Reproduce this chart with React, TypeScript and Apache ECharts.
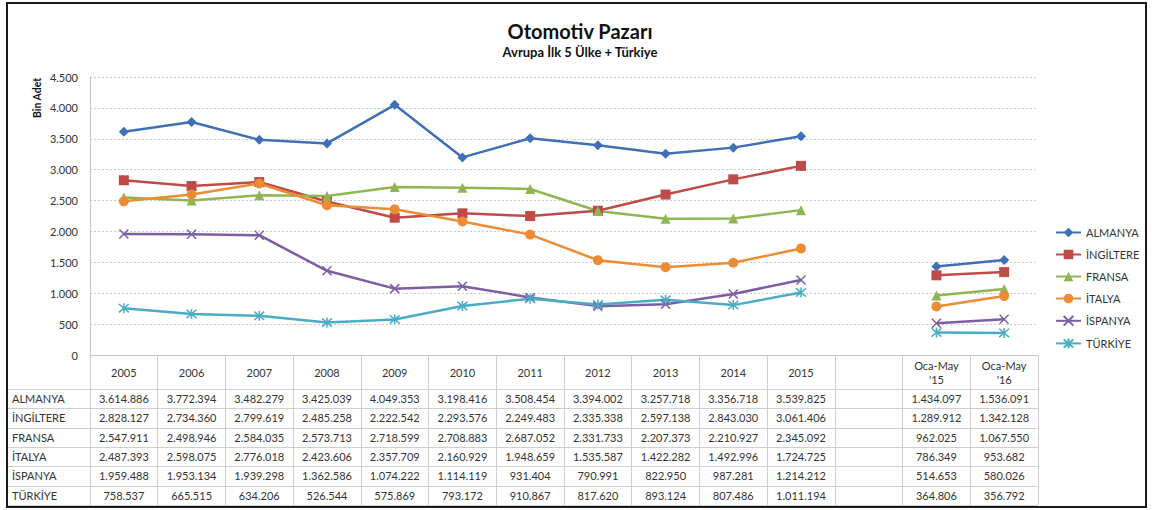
import React, { useEffect, useRef } from 'react';
import * as echarts from 'echarts';

const categories = ['2005', '2006', '2007', '2008', '2009', '2010', '2011', '2012', '2013', '2014', '2015', '', "Oca-May\n'15", "Oca-May\n'16"];
const countries = ['ALMANYA', 'İNGİLTERE', 'FRANSA', 'İTALYA', 'İSPANYA', 'TÜRKİYE'];
const yTicks = [0, 500, 1000, 1500, 2000, 2500, 3000, 3500, 4000, 4500];

const almanya = [3614886, 3772394, 3482279, 3425039, 4049353, 3198416, 3508454, 3394002, 3257718, 3356718, 3539825, null, 1434097, 1536091];
const ingiltere = [2828127, 2734360, 2799619, 2485258, 2222542, 2293576, 2249483, 2335338, 2597138, 2843030, 3061406, null, 1289912, 1342128];
const fransa = [2547911, 2498946, 2584035, 2573713, 2718599, 2708883, 2687052, 2331733, 2207373, 2210927, 2345092, null, 962025, 1067550];
const italya = [2487393, 2598075, 2776018, 2423606, 2357709, 2160929, 1948659, 1535587, 1422282, 1492996, 1724725, null, 786349, 953682];
const ispanya = [1959488, 1953134, 1939298, 1362586, 1074222, 1114119, 931404, 790991, 822950, 987281, 1214212, null, 514653, 580026];
const turkiye = [758537, 665515, 634206, 526544, 575869, 793172, 910867, 817620, 893124, 807486, 1011194, null, 364806, 356792];

const seriesValues = [almanya, ingiltere, fransa, italya, ispanya, turkiye];
const colors = ['#3F6FB6', '#BE4B48', '#8FB653', '#EE8C35', '#7D5EA3', '#4BACC6'];
const symbols = [
  'diamond',
  'rect',
  'triangle',
  'circle',
  'path://M0 0L10 10M10 0L0 10',
  'path://M0 0L10 10M10 0L0 10M5 -1L5 11',
];
const symbolSizes = [10, 10, 10, 10, 9, 10];

const fmt = (n: number) => String(Math.round(n)).replace(/\B(?=(\d{3})+(?!\d))/g, '.');

export default function App() {
  const ref = useRef<HTMLDivElement>(null);
  useEffect(() => {
    if (!ref.current) return;
    const chart = echarts.init(ref.current, undefined, { renderer: 'svg' });
    const font = 'Lato, "Open Sans", sans-serif';
    const option: any = {
      animation: false,
      textStyle: { fontFamily: font },
      grid: { left: 90, right: 114, top: 77, bottom: 155, containLabel: false },
      legend: {
        orient: 'vertical',
        left: 1050,
        top: 222,
        itemWidth: 25,
        itemHeight: 12,
        itemGap: 11,
        textStyle: { fontSize: 11, color: '#333', fontFamily: font },
        data: countries,
      },
      xAxis: {
        type: 'category',
        data: categories,
        boundaryGap: true,
        axisLine: { show: true, lineStyle: { color: '#c4c4c4', width: 1 } },
        axisTick: { show: true, interval: 0, length: 150, lineStyle: { color: '#cfcfcf', width: 1 } },
        axisLabel: {
          interval: 0,
          fontSize: 11,
          color: '#333',
          margin: 17,
          verticalAlign: 'middle',
          lineHeight: 14,
          fontFamily: font,
        },
      },
      yAxis: {
        type: 'value',
        min: yTicks[0],
        max: yTicks[yTicks.length - 1],
        interval: 500,
        axisLine: { show: true, lineStyle: { color: '#c4c4c4', width: 1 } },
        axisTick: { show: false },
        axisLabel: { fontSize: 11, color: '#333', margin: 12, formatter: (v: number) => fmt(v), fontFamily: font },
        splitLine: { show: true, lineStyle: { color: '#c8c8c8', type: [2, 2], width: 1 } },
      },
      series: countries.map((name, i) => ({
        name,
        type: 'line',
        data: seriesValues[i].map((v) => (v == null ? null : v / 1000)),
        connectNulls: false,
        symbol: symbols[i],
        symbolSize: symbolSizes[i],
        showAllSymbol: true,
        lineStyle: { color: colors[i], width: 2.5 },
        itemStyle: { color: i >= 4 ? 'rgba(0,0,0,0)' : colors[i], borderColor: colors[i], borderWidth: i >= 4 ? 1.5 : 0 },
        emphasis: { disabled: true },
      })),
    };
    chart.setOption(option);

    const graphics: any[] = [];
    graphics.push({
      type: 'rect',
      shape: { x: 7, y: 3, width: 1139, height: 504 },
      style: { fill: 'none', stroke: '#1a1a1a', lineWidth: 2 },
      silent: true,
    });
    graphics.push({
      type: 'text',
      x: 580,
      y: 31,
      style: { text: 'Otomotiv Pazarı', font: `bold 20px ${font}`, fill: '#111', align: 'center', verticalAlign: 'middle' },
    });
    graphics.push({
      type: 'text',
      x: 580,
      y: 52,
      style: { text: 'Avrupa İlk 5 Ülke + Türkiye', font: `bold 13px ${font}`, fill: '#111', align: 'center', verticalAlign: 'middle' },
    });
    graphics.push({
      type: 'text',
      x: 37,
      y: 98,
      rotation: Math.PI / 2,
      style: { text: 'Bin Adet', font: `bold 10.5px ${font}`, fill: '#111', align: 'center', verticalAlign: 'middle' },
    });

    const tableTop = 389;
    const rowH = 19.3;
    const leftX = 8;
    const rightX = chart.convertToPixel({ xAxisIndex: 0 }, categories.length - 1) as number;
    const colW = ((chart.convertToPixel({ xAxisIndex: 0 }, 1) as number) - (chart.convertToPixel({ xAxisIndex: 0 }, 0) as number));
    const tableRight = rightX + colW / 2;
    for (let r = 0; r <= countries.length; r++) {
      const y = Math.round(tableTop + r * rowH) + 0.5;
      graphics.push({
        type: 'line',
        shape: { x1: leftX, y1: y, x2: tableRight, y2: y },
        style: { stroke: '#cfcfcf', lineWidth: 1 },
        silent: true,
      });
    }
    countries.forEach((name, r) => {
      const cy = tableTop + r * rowH + rowH / 2;
      graphics.push({
        type: 'text',
        x: 12,
        y: cy,
        style: { text: name, font: `11px ${font}`, fill: '#333', align: 'left', verticalAlign: 'middle' },
      });
      seriesValues[r].forEach((v, c) => {
        if (v == null) return;
        const cx = chart.convertToPixel({ xAxisIndex: 0 }, c) as number;
        graphics.push({
          type: 'text',
          x: cx,
          y: cy,
          style: { text: fmt(v), font: `11px ${font}`, fill: '#333', align: 'center', verticalAlign: 'middle' },
        });
      });
    });

    chart.setOption({ graphic: graphics });
    return () => chart.dispose();
  }, []);
  return <div ref={ref} style={{ position: 'absolute', left: 0, top: 0, width: 1152, height: 510, background: '#fff' }} />;
}
